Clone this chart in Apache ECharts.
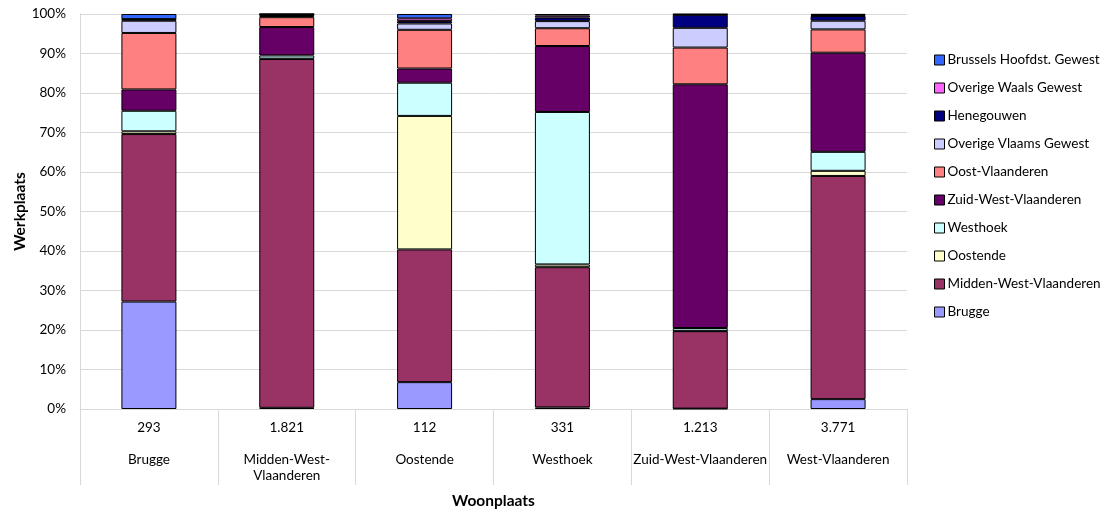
<!DOCTYPE html>
<html>
<head>
<meta charset="utf-8">
<script src="https://cdn.jsdelivr.net/npm/echarts@6/dist/echarts.min.js"></script>
<style>
html,body{margin:0;padding:0;background:#fff;}
#chart{width:1109px;height:511px;}
</style>
</head>
<body>
<div id="chart"></div>
<script>
// Categories (woonplaats) and their totals
const categories = ["Brugge", "Midden-West-Vlaanderen", "Oostende", "Westhoek", "Zuid-West-Vlaanderen", "West-Vlaanderen"];
const categoryLabels = ["Brugge", "Midden-West-\nVlaanderen", "Oostende", "Westhoek", "Zuid-West-Vlaanderen", "West-Vlaanderen"];
const totals = ["293", "1.821", "112", "331", "1.213", "3.771"];

// Series values (% of werkplaats), bottom to top
const brugge        = [27.2, 0.3, 6.8, 0.4, 0.1, 2.5];
const middenWestVl  = [42.4, 88.3, 33.6, 35.5, 19.6, 56.5];
const oostende      = [0.7, 0.1, 33.8, 0.7, 0.1, 1.3];
const westhoek      = [5.2, 0.8, 8.4, 38.6, 0.7, 4.8];
const zuidWestVl    = [5.4, 7.2, 3.6, 16.7, 61.7, 25.1];
const oostVl        = [14.3, 2.5, 9.8, 4.5, 9.3, 5.9];
const overigeVlaams = [3.1, 0.3, 1.6, 1.8, 5.0, 2.2];
const henegouwen    = [0.3, 0.4, 0.6, 0.9, 3.3, 1.2];
const overigeWaals  = [0.1, 0.05, 0.7, 0.5, 0.1, 0.3];
const brussels      = [1.3, 0.05, 1.1, 0.4, 0.1, 0.2];

const seriesNames = ["Brugge", "Midden-West-Vlaanderen", "Oostende", "Westhoek", "Zuid-West-Vlaanderen", "Oost-Vlaanderen", "Overige Vlaams Gewest", "Henegouwen", "Overige Waals Gewest", "Brussels Hoofdst. Gewest"];
const seriesData = [brugge, middenWestVl, oostende, westhoek, zuidWestVl, oostVl, overigeVlaams, henegouwen, overigeWaals, brussels];
const seriesColors = ["#9999FF", "#993366", "#FFFFCC", "#CCFFFF", "#660066", "#FF8080", "#CCCCFF", "#000080", "#FF66FF", "#3366FF"];

const yTicks = { min: 0, max: 100, interval: 10 };

const FONT = "Lato";
const chart = echarts.init(document.getElementById('chart'));
chart.setOption({
  animation: false,
  textStyle: { fontFamily: FONT },
  grid: { left: 80, right: 202, top: 14, bottom: 102, containLabel: false, outerBoundsMode: 'none' },
  legend: {
    orient: 'vertical',
    left: 934,
    top: 52,
    padding: 0,
    itemWidth: 10,
    itemHeight: 10,
    itemGap: 12,
    icon: 'rect',
    data: seriesNames.slice().reverse(),
    textStyle: { fontFamily: FONT, fontSize: 13.5, color: '#000', lineHeight: 16, padding: [0, 0, 0, -2] },
    itemStyle: { borderColor: '#000', borderWidth: 1 }
  },
  xAxis: {
    type: 'category',
    data: categories,
    name: 'Woonplaats',
    nameLocation: 'middle',
    nameGap: 84,
    nameMoveOverlap: false,
    nameTextStyle: { fontFamily: FONT, fontWeight: 'bold', fontSize: 15.5, color: '#000' },
    axisLine: { show: true, lineStyle: { color: '#d9d9d9', width: 1 } },
    axisTick: { show: true, length: 76, alignWithLabel: false, lineStyle: { color: '#d9d9d9' } },
    axisLabel: {
      interval: 0,
      margin: 11,
      fontFamily: FONT,
      fontSize: 13.5,
      color: '#000',
      lineHeight: 16,
      formatter: function (v, i) { return totals[i] + '\n\n' + categoryLabels[i]; }
    }
  },
  yAxis: {
    type: 'value',
    min: yTicks.min,
    max: yTicks.max,
    interval: yTicks.interval,
    name: 'Werkplaats',
    nameLocation: 'middle',
    nameGap: 52,
    nameMoveOverlap: false,
    nameTextStyle: { fontFamily: FONT, fontWeight: 'bold', fontSize: 15.5, color: '#000' },
    axisLine: { show: true, lineStyle: { color: '#d9d9d9' } },
    axisTick: { show: false },
    splitLine: { lineStyle: { color: '#d9d9d9', width: 1 } },
    axisLabel: { fontFamily: FONT, fontSize: 13.5, color: '#000', margin: 14, formatter: '{value}%' }
  },
  series: seriesNames.map(function (name, k) {
    return {
      name: name,
      type: 'bar',
      stack: 'total',
      barWidth: 55,
      data: seriesData[k],
      itemStyle: { color: seriesColors[k], borderColor: '#000', borderWidth: 1 }
    };
  })
});
</script>
</body>
</html>
